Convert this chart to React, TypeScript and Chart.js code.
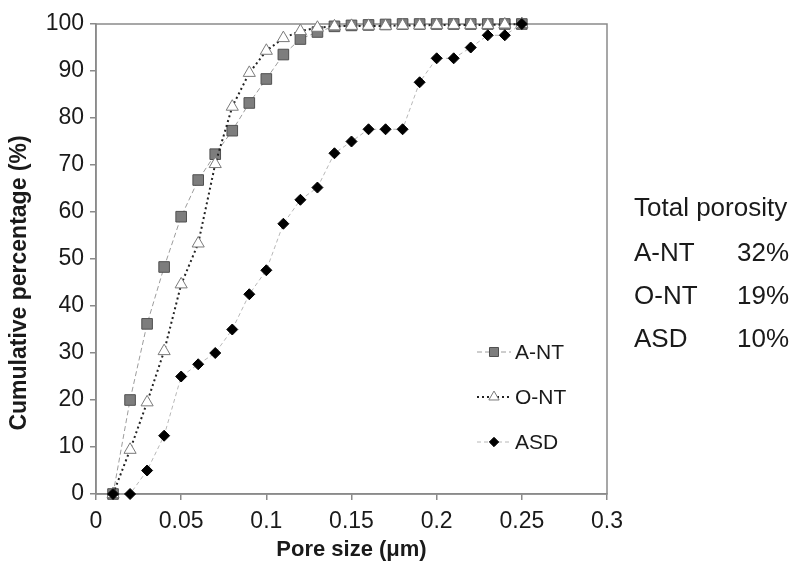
import React, { useEffect, useRef } from "react";
import { Chart, registerables } from "chart.js";

Chart.register(...registerables);

const poreSize = [0.01, 0.02, 0.03, 0.04, 0.05, 0.06, 0.07, 0.08, 0.09, 0.1, 0.11, 0.12, 0.13, 0.14, 0.15, 0.16, 0.17, 0.18, 0.19, 0.2, 0.21, 0.22, 0.23, 0.24, 0.25];
const aNT = [0, 20, 36.2, 48.3, 59, 66.8, 72.3, 77.3, 83.2, 88.3, 93.5, 96.8, 98.3, 99.5, 99.7, 99.8, 99.9, 100, 100, 100, 100, 100, 100, 100, 100];
const oNT = [0, 9.4, 19.5, 30.4, 44.6, 53.3, 70.2, 82.4, 89.6, 94.3, 97, 98.5, 99.2, 99.5, 99.6, 99.6, 99.6, 99.7, 99.7, 99.8, 99.8, 99.8, 99.8, 99.9, 100];
const asd = [0, 0, 5, 12.4, 25, 27.6, 30, 35, 42.5, 47.6, 57.5, 62.6, 65.2, 72.5, 75, 77.6, 77.6, 77.6, 87.6, 92.7, 92.7, 95, 97.6, 97.6, 100];

const seriesNames = ["A-NT", "O-NT", "ASD"];
const xTickValues = [0, 0.05, 0.1, 0.15, 0.2, 0.25, 0.3];
const xTickLabels = ["0", "0.05", "0.1", "0.15", "0.2", "0.25", "0.3"];
const yTickValues = [0, 10, 20, 30, 40, 50, 60, 70, 80, 90, 100];

const porosityTitle = "Total porosity";
const porosityNames = ["A-NT", "O-NT", "ASD"];
const porosityValues = ["32%", "19%", "10%"];

const xTitle = "Pore size (\u03bcm)";
const yTitle = "Cumulative percentage (%)";

const FONT = "'Liberation Sans', Arial, sans-serif";
const TEXT = "#1a1a1a";
const AXIS = "#8a8a8a";

const toPoints = (ys: number[]) => poreSize.map((x, i) => ({ x, y: ys[i] }));

const extrasPlugin = {
  id: "extras",
  beforeDatasetsDraw(chart: any) {
    const { ctx, chartArea } = chart;
    ctx.save();
    ctx.strokeStyle = AXIS;
    ctx.lineWidth = 1.5;
    ctx.strokeRect(chartArea.left, chartArea.top, chartArea.right - chartArea.left, chartArea.bottom - chartArea.top);
    ctx.restore();
  },
  afterDraw(chart: any) {
    const { ctx } = chart;
    ctx.save();
    // y title
    ctx.fillStyle = TEXT;
    ctx.font = `bold 23px ${FONT}`;
    ctx.textAlign = "center";
    ctx.textBaseline = "middle";
    ctx.translate(20, 283);
    ctx.rotate(-Math.PI / 2);
    ctx.fillText(yTitle, 0, 0);
    ctx.restore();

    // legend
    const legendY = [352, 397, 442];
    chart.data.datasets.forEach((ds: any, i: number) => {
      const y = legendY[i];
      ctx.save();
      ctx.strokeStyle = ds.borderColor;
      ctx.lineWidth = ds.borderWidth;
      ctx.setLineDash(ds.borderDash || []);
      ctx.beginPath();
      ctx.moveTo(477, y);
      ctx.lineTo(511, y);
      ctx.stroke();
      ctx.setLineDash([]);
      ctx.fillStyle = ds.pointBackgroundColor;
      ctx.strokeStyle = ds.pointBorderColor;
      ctx.lineWidth = ds.pointBorderWidth;
      const r = ds.pointRadius * 0.85;
      ctx.beginPath();
      if (ds.pointStyle === "rect") {
        const s = r * Math.SQRT1_2;
        ctx.rect(494 - s, y - s, 2 * s, 2 * s);
      } else if (ds.pointStyle === "triangle") {
        ctx.moveTo(494, y - r);
        ctx.lineTo(494 + r * 0.866, y + r * 0.5);
        ctx.lineTo(494 - r * 0.866, y + r * 0.5);
        ctx.closePath();
      } else {
        ctx.moveTo(494, y - r);
        ctx.lineTo(494 + r, y);
        ctx.lineTo(494, y + r);
        ctx.lineTo(494 - r, y);
        ctx.closePath();
      }
      ctx.fill();
      ctx.stroke();
      ctx.fillStyle = TEXT;
      ctx.font = `21px ${FONT}`;
      ctx.textAlign = "left";
      ctx.textBaseline = "middle";
      ctx.fillText(ds.label, 515, y + 1);
      ctx.restore();
    });

    // total porosity text
    ctx.save();
    ctx.fillStyle = TEXT;
    ctx.font = `26px ${FONT}`;
    ctx.textBaseline = "alphabetic";
    ctx.textAlign = "left";
    ctx.fillText(porosityTitle, 634, 216);
    const rows = [261, 304, 347];
    porosityNames.forEach((n, i) => {
      ctx.textAlign = "left";
      ctx.fillText(n, 634, rows[i]);
      ctx.textAlign = "right";
      ctx.fillText(porosityValues[i], 789, rows[i]);
    });
    ctx.restore();
  },
};

export default function App() {
  const ref = useRef<HTMLCanvasElement>(null);
  useEffect(() => {
    if (!ref.current) return;
    const chart = new Chart(ref.current, {
      type: "scatter",
      data: {
        datasets: [
          {
            label: seriesNames[0],
            data: toPoints(aNT),
            showLine: true,
            borderColor: "#9c9c9c",
            borderWidth: 1,
            borderDash: [5, 3],
            pointStyle: "rect",
            pointRadius: 7.5,
            pointBackgroundColor: "#7d7d7d",
            pointBorderColor: "#505050",
            pointBorderWidth: 1,
            order: 2,
            clip: false,
          },
          {
            label: seriesNames[1],
            data: toPoints(oNT),
            showLine: true,
            borderColor: "#222222",
            borderWidth: 2,
            borderDash: [2, 3],
            pointStyle: "triangle",
            pointRadius: 7,
            pointBackgroundColor: "#ffffff",
            pointBorderColor: "#7a7a7a",
            pointBorderWidth: 1,
            order: 1,
            clip: false,
          },
          {
            label: seriesNames[2],
            data: toPoints(asd),
            showLine: true,
            borderColor: "#b8b8b8",
            borderWidth: 1,
            borderDash: [4, 3],
            pointStyle: "rectRot",
            pointRadius: 5.5,
            pointBackgroundColor: "#000000",
            pointBorderColor: "#000000",
            pointBorderWidth: 1,
            order: 0,
            clip: false,
          },
        ] as any,
      },
      options: {
        animation: false,
        responsive: false,
        devicePixelRatio: 1,
        layout: { padding: { left: 0, top: 24, right: 187, bottom: 0 } },
        plugins: { legend: { display: false }, tooltip: { enabled: false } },
        scales: {
          x: {
            type: "linear",
            min: 0,
            max: 0.3,
            afterBuildTicks: (s: any) => {
              s.ticks = xTickValues.map((v) => ({ value: v }));
            },
            afterFit: (s: any) => {
              s.height = 70;
            },
            ticks: {
              color: TEXT,
              font: { family: FONT, size: 23 },
              padding: 8,
              maxRotation: 0,
              autoSkip: false,
              callback: (v: any) => {
                const i = xTickValues.findIndex((t) => Math.abs(t - v) < 1e-9);
                return i >= 0 ? xTickLabels[i] : "";
              },
            },
            grid: { display: true, drawOnChartArea: false, drawTicks: true, tickLength: 6, color: AXIS, lineWidth: 1.5 },
            border: { display: true, color: AXIS, width: 1.5 },
            title: { display: true, text: xTitle, color: TEXT, font: { family: FONT, size: 22, weight: "bold" }, padding: { top: 0, bottom: 1 } },
          },
          y: {
            type: "linear",
            min: 0,
            max: 100,
            afterBuildTicks: (s: any) => {
              s.ticks = yTickValues.map((v) => ({ value: v }));
            },
            afterFit: (s: any) => {
              s.width = 96;
            },
            ticks: { color: TEXT, font: { family: FONT, size: 23 }, padding: 6, autoSkip: false },
            grid: { display: true, drawOnChartArea: false, drawTicks: true, tickLength: 6, color: AXIS, lineWidth: 1.5 },
            border: { display: true, color: AXIS, width: 1.5 },
          },
        },
      } as any,
      plugins: [extrasPlugin],
    });
    return () => chart.destroy();
  }, []);
  return (
    <div style={{ position: "fixed", left: 0, top: 0, width: 794, height: 564, background: "#fff" }}>
      <canvas ref={ref} width={794} height={564} style={{ display: "block", width: 794, height: 564 }} />
    </div>
  );
}
